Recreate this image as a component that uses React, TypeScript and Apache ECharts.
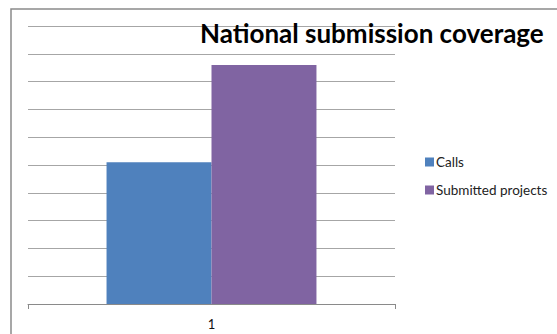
import React, { useEffect, useRef } from "react";
import * as echarts from "echarts";

const categories = ["1"];
const calls = [51];
const submittedProjects = [86];
const seriesNames = ["Calls", "Submitted projects"];
const titleText = "National submission coverage";

export default function App() {
  const ref = useRef<HTMLDivElement>(null);

  useEffect(() => {
    if (!ref.current) return;
    const chart = echarts.init(ref.current, null, { renderer: "svg" });
    const font = "Lato, 'Open Sans', sans-serif";
    chart.setOption({
      animation: false,
      backgroundColor: "#ffffff",
      title: {
        text: titleText,
        left: 200,
        top: 20,
        padding: 0,
        textStyle: {
          fontFamily: font,
          fontWeight: "bold",
          fontSize: 26,
          color: "#000000",
        },
      },
      legend: {
        orient: "vertical",
        left: 420,
        top: 150,
        itemWidth: 9,
        itemHeight: 9,
        itemGap: 14,
        icon: "rect",
        textStyle: { fontFamily: font, fontSize: 13.5, color: "#222222", padding: [0, 0, 0, -3] },
        data: seriesNames,
      },
      graphic: [
        {
          type: "rect",
          shape: { x: 11, y: 9, width: 600, height: 400 },
          style: { fill: "none", stroke: "#8a8a8a", lineWidth: 1.5 },
          silent: true,
        },
      ],
      grid: { left: 28, right: 162, top: 26, bottom: 30, containLabel: false },
      xAxis: {
        type: "category",
        data: categories,
        axisLine: { show: true, lineStyle: { color: "#8a8a8a", width: 1 } },
        axisTick: { show: true, length: 5, lineStyle: { color: "#8a8a8a" } },
        axisLabel: { fontFamily: font, fontSize: 13, color: "#111111", margin: 13 },
      },
      yAxis: {
        type: "value",
        min: 0,
        max: 100,
        interval: 10,
        axisLine: { show: false },
        axisTick: { show: false },
        axisLabel: { show: false },
        splitLine: { show: true, lineStyle: { color: "#a6a6a6", width: 1 } },
      },
      series: [
        {
          name: seriesNames[0],
          type: "bar",
          data: calls,
          itemStyle: { color: "#4f81bd" },
          barGap: "0%",
          barCategoryGap: "42.8%",
        },
        {
          name: seriesNames[1],
          type: "bar",
          data: submittedProjects,
          itemStyle: { color: "#8064a2" },
          barGap: "0%",
          barCategoryGap: "42.8%",
        },
      ],
    });
    return () => chart.dispose();
  }, []);

  return (
    <div
      ref={ref}
      style={{ position: "absolute", left: 0, top: 0, width: 557, height: 334 }}
    />
  );
}
